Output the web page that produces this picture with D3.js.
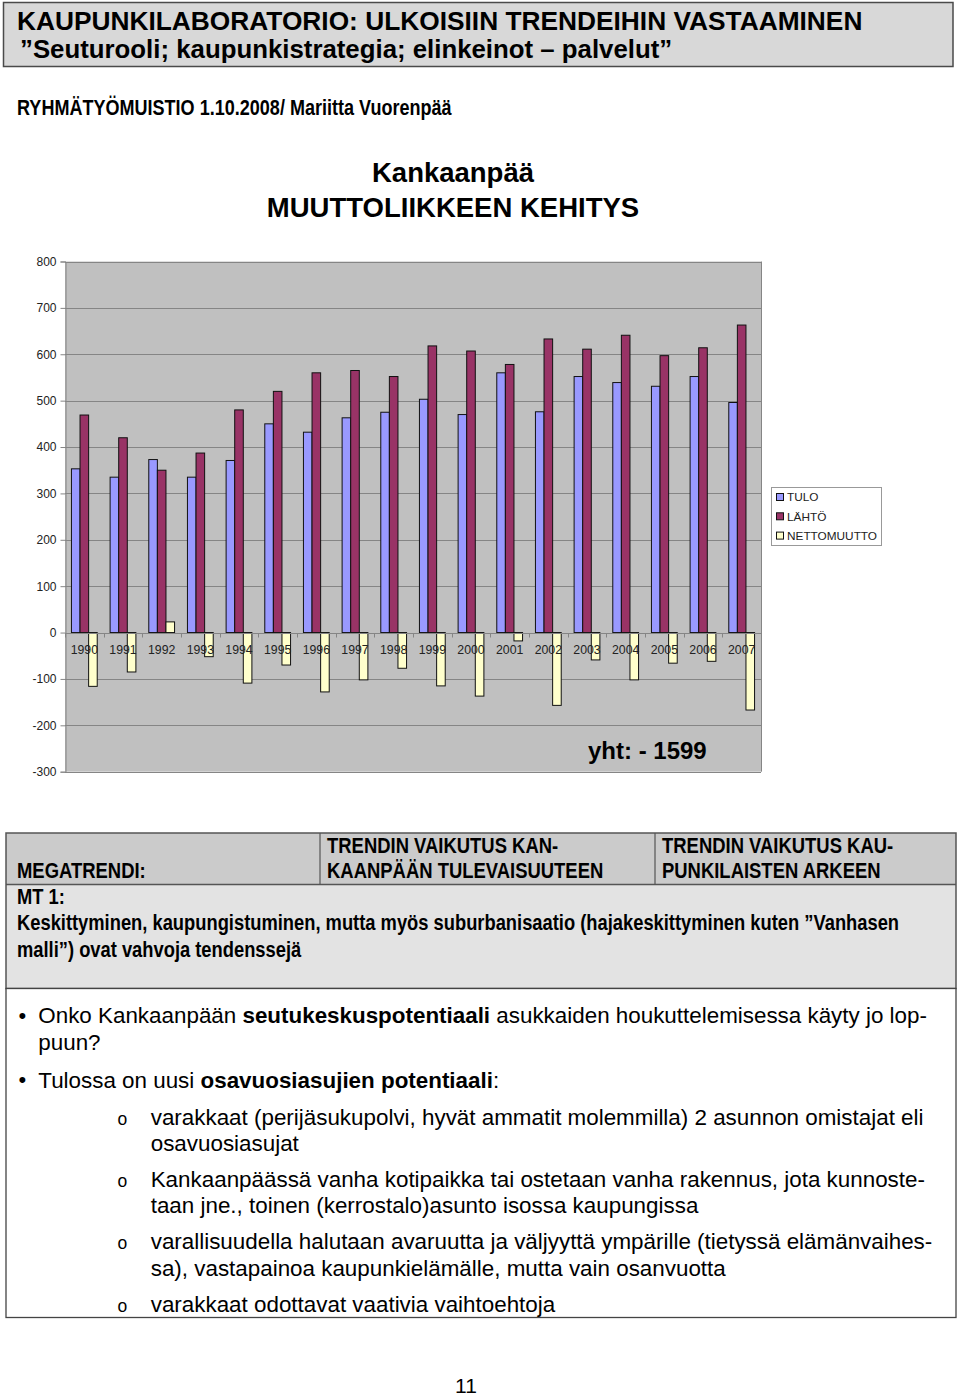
<!DOCTYPE html>
<html>
<head>
<meta charset="utf-8">
<script src="https://cdn.jsdelivr.net/npm/d3@7"></script>
<style>
  body { margin: 0; background: #fff; }
  svg { display: block; font-family: "Liberation Sans", Arial, sans-serif; }
</style>
</head>
<body>
<script>
// chart data
const years = ['1990', '1991', '1992', '1993', '1994', '1995', '1996', '1997', '1998',
  '1999', '2000', '2001', '2002', '2003', '2004', '2005', '2006', '2007'];
const tulo = [353, 335, 373, 335, 371, 450, 432, 463, 475, 503, 470, 560, 476, 552, 539, 531, 552, 496];
const lahto = [469, 420, 350, 387, 480, 520, 560, 565, 552, 618, 607, 578, 633, 611, 641, 597, 614, 663];
const netto = [-116, -85, 23, -52, -109, -70, -128, -102, -77, -115, -137, -18, -157, -59, -102, -66, -62, -167];
const seriesNames = ['TULO', 'LÄHTÖ', 'NETTOMUUTTO'];
const seriesColors = ['#9999ff', '#993366', '#ffffcc'];
const yTicks = d3.range(-300, 801, 100);

// page text
const bulletLines = [
  {mark: '•', y: 1023, parts: [['Onko Kankaanpään ', 0], ['seutukeskuspotentiaali', 1], [' asukkaiden houkuttelemisessa käyty jo lop-', 0]]},
  {y: 1049.5, parts: [['puun?', 0]]},
  {mark: '•', y: 1087.5, parts: [['Tulossa on uusi ', 0], ['osavuosiasujien potentiaali', 1], [':', 0]]},
  {mark: 'o', y: 1125, parts: [['varakkaat (perijäsukupolvi, hyvät ammatit molemmilla) 2 asunnon omistajat eli', 0]]},
  {y: 1151, parts: [['osavuosiasujat', 0]]},
  {mark: 'o', y: 1187, parts: [['Kankaanpäässä vanha kotipaikka tai ostetaan vanha rakennus, jota kunnoste-', 0]]},
  {y: 1212.5, parts: [['taan jne., toinen (kerrostalo)asunto isossa kaupungissa', 0]]},
  {mark: 'o', y: 1249, parts: [['varallisuudella halutaan avaruutta ja väljyyttä ympärille (tietyssä elämänvaihes-', 0]]},
  {y: 1275.5, parts: [['sa), vastapainoa kaupunkielämälle, mutta vain osanvuotta', 0]]},
  {mark: 'o', y: 1312, parts: [['varakkaat odottavat vaativia vaihtoehtoja', 0]]}
];

const width = 960;
const height = 1397;

const svg = d3.select('body')
  .append('svg')
  .attr('width', width)
  .attr('height', height);

function narrow(x, y, str, size, sx = 0.82) {
  return svg.append('text')
    .attr('transform', `translate(${x},${y}) scale(${sx},1)`)
    .attr('font-weight', 'bold')
    .attr('font-size', size)
    .text(str);
}

// header box
svg.append('rect')
  .attr('x', 3.5).attr('y', 2.5).attr('width', 949.5).attr('height', 64)
  .attr('fill', '#d8d8d8').attr('stroke', '#4a4a4a').attr('stroke-width', 1.5);
svg.append('text').attr('x', 17).attr('y', 30)
  .attr('font-weight', 'bold').attr('font-size', 26.3)
  .text('KAUPUNKILABORATORIO: ULKOISIIN TRENDEIHIN VASTAAMINEN');
svg.append('text').attr('x', 20).attr('y', 58)
  .attr('font-weight', 'bold').attr('font-size', 25.8)
  .text('”Seuturooli; kaupunkistrategia; elinkeinot – palvelut”');

narrow(17, 115, 'RYHMÄTYÖMUISTIO 1.10.2008/ Mariitta Vuorenpää', 22);

// chart title
svg.append('text').attr('x', 453).attr('y', 182)
  .attr('text-anchor', 'middle').attr('font-weight', 'bold').attr('font-size', 27.5)
  .text('Kankaanpää');
svg.append('text').attr('x', 453).attr('y', 217)
  .attr('text-anchor', 'middle').attr('font-weight', 'bold').attr('font-size', 27.5)
  .text('MUUTTOLIIKKEEN KEHITYS');

// chart
const plot = {left: 65, right: 761, top: 261.5, bottom: 771.7};

const x0 = d3.scaleBand().domain(years).range([plot.left, plot.right]);
const x1 = d3.scaleBand().domain(seriesNames).range([0, x0.bandwidth()]).paddingOuter(0.75);
const y = d3.scaleLinear().domain([-300, 800]).range([plot.bottom, plot.top]);

svg.append('rect')
  .attr('x', plot.left).attr('y', plot.top)
  .attr('width', plot.right - plot.left).attr('height', plot.bottom - plot.top)
  .attr('fill', '#c0c0c0');

svg.append('g')
  .selectAll('line')
  .data(yTicks)
  .join('line')
  .attr('x1', plot.left).attr('x2', plot.right)
  .attr('y1', d => Math.round(y(d)) + 0.5).attr('y2', d => Math.round(y(d)) + 0.5)
  .attr('stroke', '#858585');

svg.append('line')
  .attr('x1', plot.right + 0.5).attr('x2', plot.right + 0.5)
  .attr('y1', plot.top).attr('y2', plot.bottom)
  .attr('stroke', '#858585');

const values = [tulo, lahto, netto];
const bars = years.flatMap((yr, i) => seriesNames.map((s, j) => ({yr, s, j, v: values[j][i]})));

svg.append('g')
  .selectAll('rect')
  .data(bars)
  .join('rect')
  .attr('x', d => x0(d.yr) + x1(d.s))
  .attr('width', x1.bandwidth())
  .attr('y', d => y(Math.max(0, d.v)))
  .attr('height', d => Math.abs(y(d.v) - y(0)))
  .attr('fill', d => seriesColors[d.j])
  .attr('stroke', '#111')
  .attr('stroke-width', 1);

// value axis
const yAxis = svg.append('g')
  .attr('transform', `translate(${plot.left + 0.5},0)`)
  .call(d3.axisLeft(y).tickValues(yTicks).tickSize(5).tickPadding(4).tickFormat(d => String(d)))
  .attr('font-family', null).attr('font-size', 12);
yAxis.select('.domain').attr('stroke', '#858585');
yAxis.selectAll('.tick line').attr('stroke', '#858585');
yAxis.selectAll('.tick text').attr('fill', '#222');

// category axis at zero
const zeroY = Math.round(y(0)) + 0.5;
svg.append('line')
  .attr('x1', plot.left).attr('x2', plot.right)
  .attr('y1', zeroY).attr('y2', zeroY)
  .attr('stroke', '#858585');
svg.append('g')
  .selectAll('line')
  .data(years.map(d => x0(d)).concat([plot.right]))
  .join('line')
  .attr('x1', d => Math.round(d) + 0.5).attr('x2', d => Math.round(d) + 0.5)
  .attr('y1', zeroY).attr('y2', zeroY + 4)
  .attr('stroke', '#858585');
svg.append('g')
  .selectAll('text')
  .data(years)
  .join('text')
  .attr('x', d => x0(d) + x0.bandwidth() / 2)
  .attr('y', y(0) + 21.5)
  .attr('text-anchor', 'middle')
  .attr('font-size', 12.3)
  .attr('fill', '#222')
  .text(d => d);

svg.append('text')
  .attr('x', 588).attr('y', 759)
  .attr('font-weight', 'bold').attr('font-size', 24)
  .text(`yht: - ${-d3.sum(netto)}`);

// legend
const legend = svg.append('g').attr('transform', 'translate(771,487)');
legend.append('rect')
  .attr('x', 0.5).attr('y', 0.5).attr('width', 110).attr('height', 58)
  .attr('fill', '#fff').attr('stroke', '#999');
const item = legend.selectAll('g.item')
  .data(seriesNames)
  .join('g')
  .attr('class', 'item')
  .attr('transform', (d, i) => `translate(5,${10 + i * 19.3})`);
item.append('rect')
  .attr('x', 0.5).attr('y', -3.5).attr('width', 7).attr('height', 7)
  .attr('fill', (d, i) => seriesColors[i]).attr('stroke', '#111');
item.append('text')
  .attr('x', 11).attr('y', 4.3)
  .attr('font-size', 11.8).attr('fill', '#222')
  .text(d => d);

// table
svg.append('rect')
  .attr('x', 6).attr('y', 833).attr('width', 950).attr('height', 51.5)
  .attr('fill', '#cbcbcb');
svg.append('rect')
  .attr('x', 6).attr('y', 884.5).attr('width', 950).attr('height', 104)
  .attr('fill', '#e3e3e3');
svg.append('rect')
  .attr('x', 6).attr('y', 833).attr('width', 950).attr('height', 155.5)
  .attr('fill', 'none').attr('stroke', '#555').attr('stroke-width', 1.5);
svg.append('line')
  .attr('x1', 6).attr('x2', 956).attr('y1', 884.5).attr('y2', 884.5)
  .attr('stroke', '#555').attr('stroke-width', 1.5);
[320, 655].forEach(cx => {
  svg.append('line')
    .attr('x1', cx).attr('x2', cx).attr('y1', 833).attr('y2', 884.5)
    .attr('stroke', '#555').attr('stroke-width', 1.2);
});

narrow(17, 878, 'MEGATRENDI:', 22.5);
narrow(327, 853, 'TRENDIN VAIKUTUS KAN-', 22.5);
narrow(327, 878, 'KAANPÄÄN TULEVAISUUTEEN', 22.5);
narrow(662, 853, 'TRENDIN VAIKUTUS KAU-', 22.5);
narrow(662, 878, 'PUNKILAISTEN ARKEEN', 22.5);
narrow(17, 904, 'MT 1:', 22.5, 0.815);
narrow(17, 930, 'Keskittyminen, kaupungistuminen, mutta myös suburbanisaatio (hajakeskittyminen kuten ”Vanhasen', 22.5, 0.815);
narrow(17, 956.5, 'malli”) ovat vahvoja tendenssejä', 22.5, 0.815);

// bullet box
svg.append('rect')
  .attr('x', 6).attr('y', 988.5).attr('width', 950).attr('height', 329)
  .attr('fill', '#fff').attr('stroke', '#444').attr('stroke-width', 1.3);

bulletLines.forEach(line => {
  const sub = line.mark === 'o' || (!line.mark && line.parts[0][0] !== 'puun?');
  const tx = sub ? 150.7 : 38.3;
  if (line.mark === '•') {
    svg.append('text').attr('x', 18.5).attr('y', line.y - 0.5)
      .attr('font-size', 22).text('•');
  } else if (line.mark === 'o') {
    svg.append('text').attr('x', 117.5).attr('y', line.y)
      .attr('font-size', 17.5).text('o');
  }
  const t = svg.append('text').attr('x', tx).attr('y', line.y).attr('font-size', 22.4);
  line.parts.forEach(p => {
    t.append('tspan').attr('font-weight', p[1] ? 'bold' : 'normal').text(p[0]);
  });
});

svg.append('text')
  .attr('x', 466).attr('y', 1393)
  .attr('text-anchor', 'middle').attr('font-size', 21)
  .text('11');
</script>
</body>
</html>
